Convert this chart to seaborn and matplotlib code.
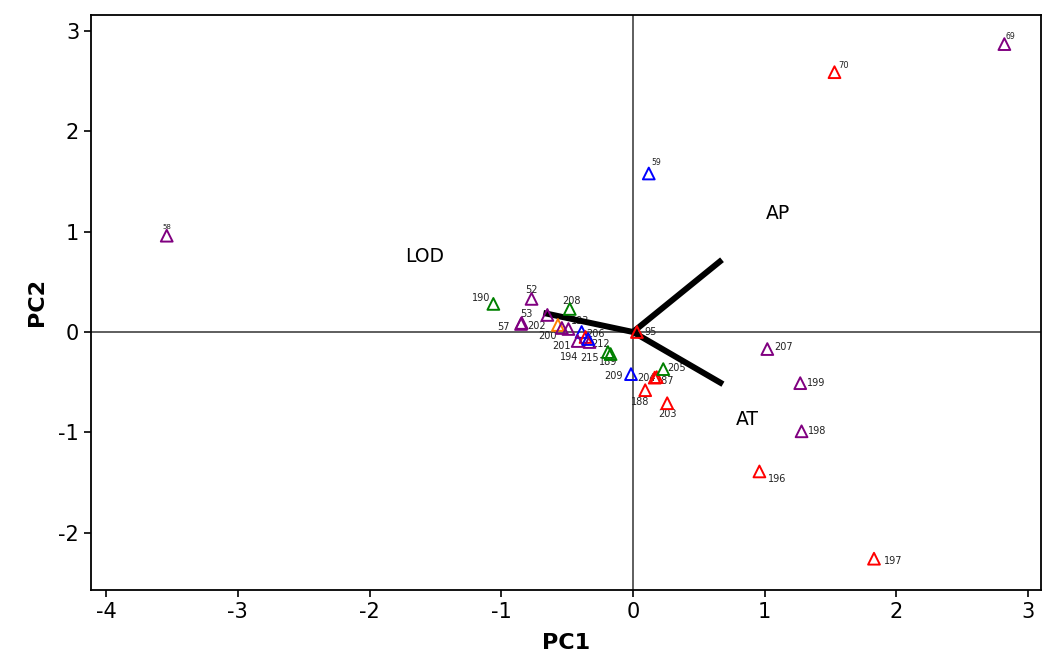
import matplotlib
matplotlib.use("Agg")
import matplotlib.pyplot as plt
import seaborn as sns
import pandas as pd

# ---- data ----
labels = ["58", "69", "70", "59", "207", "199", "198", "196", "197",
          "190", "52", "208", "53", "57", "202", "200", "201", "193",
          "206", "", "194", "215", "212", "189", "",
          "95", "209", "204", "187", "205", "188", "203"]
pc1 = [-3.54, 2.82, 1.53, 0.12, 1.02, 1.27, 1.28, 0.96, 1.83,
       -1.06, -0.77, -0.48, -0.845, -0.85, -0.65, -0.57, -0.54, -0.49,
       -0.39, -0.36, -0.42, -0.33, -0.34, -0.19, -0.17,
       0.03, -0.015, 0.165, 0.18, 0.23, 0.093, 0.26]
pc2 = [0.96, 2.87, 2.59, 1.58, -0.17, -0.51, -0.99, -1.39, -2.26,
       0.28, 0.33, 0.23, 0.09, 0.08, 0.17, 0.07, 0.04, 0.03,
       0.00, -0.05, -0.09, -0.10, -0.07, -0.20, -0.22,
       0.00, -0.42, -0.455, -0.45, -0.37, -0.58, -0.71]
group = ["purple", "purple", "red", "blue", "purple", "purple", "purple", "red", "red",
         "green", "purple", "green", "purple", "purple", "purple", "orange", "purple", "purple",
         "blue", "red", "purple", "purple", "blue", "green", "green",
         "red", "blue", "red", "red", "green", "red", "red"]

vars_ = ["AP", "AT", "LOD"]
load_x = [0.676, 0.683, -0.68]
load_y = [0.72, -0.52, 0.19]
var_text_x = [1.10, 0.87, -1.58]
var_text_y = [1.18, -0.87, 0.75]

palette = {"purple": "#800080", "red": "#FF0000", "blue": "#0000FF",
           "green": "#008000", "orange": "#FF7F00"}

# label offsets in pixels (dx, dy) and font sizes
offsets = {"58": (0, 9, 5), "69": (6, 8, 5.5), "70": (9, 7, 6), "59": (7, 11, 5.5),
           "207": (16, 2, 7), "199": (16, 0, 7), "198": (16, 0, 7), "196": (18, -8, 7),
           "197": (19, -2, 7), "190": (-12, 6, 7), "52": (0, 9, 7), "208": (2, 8, 7),
           "53": (5, 9, 7), "57": (-18, -3, 7), "202": (-11, -11, 7), "200": (-10, -11, 7),
           "201": (0, -18, 7), "193": (12, 8, 7), "206": (14, -2, 7), "194": (-9, -16, 7),
           "215": (0, -16, 7), "212": (12, -5, 7), "189": (0, -10, 7), "95": (14, 0, 7),
           "209": (-17, -2, 7), "204": (-8, 0, 7), "187": (9, -4, 7), "205": (13, 1, 7),
           "188": (-5, -12, 7), "203": (0, -11, 7)}

df = pd.DataFrame({"label": labels, "PC1": pc1, "PC2": pc2, "group": group})

sns.set_theme(style="white")
plt.rcParams["font.family"] = ["DejaVu Sans"]
plt.rcParams["axes.unicode_minus"] = False

fig = plt.figure(figsize=(10.43, 6.6), dpi=100)
ax = fig.add_axes([91 / 1043, 1 - 590 / 660, (1041 - 91) / 1043, (590 - 15) / 660])

ax.axhline(0, color="#333333", lw=1.1, zorder=1)
ax.axvline(0, color="#333333", lw=1.1, zorder=1)

# labels beneath markers
for _, r in df.iterrows():
    if r["label"] == "":
        continue
    dx, dy, fs = offsets[r["label"]]
    ax.annotate(r["label"], (r["PC1"], r["PC2"]), xytext=(dx, dy),
                textcoords="offset pixels", ha="center", va="center",
                fontsize=fs, color="#222222", zorder=2)

for lx, ly in zip(load_x, load_y):
    ax.plot([0, lx], [0, ly], color="black", lw=4.3, solid_capstyle="butt", zorder=3)

sns.scatterplot(data=df, x="PC1", y="PC2", hue="group", palette=palette,
                marker="^", s=72, linewidth=1.4, legend=False, ax=ax, zorder=4)
coll = ax.collections[-1]
fc = coll.get_facecolors()
coll.set_edgecolors(fc)
coll.set_facecolors("none")

for t, tx, ty in zip(vars_, var_text_x, var_text_y):
    ax.text(tx, ty, t, fontsize=13.5, ha="center", va="center", color="black")

ax.set_xlim(-4.115, 3.098)
ax.set_ylim(-2.572, 3.16)
ax.set_xticks([-4, -3, -2, -1, 0, 1, 2, 3])
ax.set_yticks([-2, -1, 0, 1, 2, 3])
ax.tick_params(axis="both", which="both", direction="out", length=5, width=1.2,
               labelsize=15, colors="black", bottom=True, left=True, top=False, right=False)
ax.set_xlabel("PC1", fontsize=16, fontweight="bold", labelpad=8, color="black")
ax.set_ylabel("PC2", fontsize=16, fontweight="bold", labelpad=8, color="black")
for sp in ax.spines.values():
    sp.set_color("black")
    sp.set_linewidth(1.3)

fig.savefig("out.png", dpi=100)
